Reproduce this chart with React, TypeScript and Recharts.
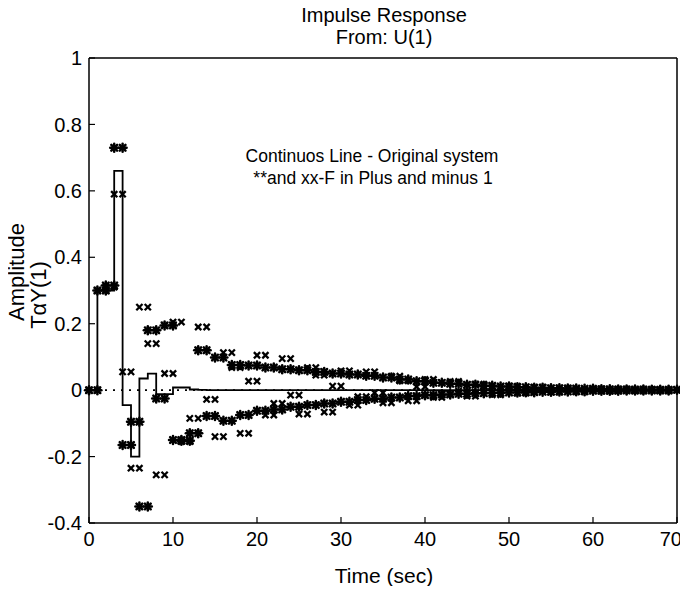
import { ComposedChart, Line, Scatter, XAxis, YAxis, ReferenceLine } from 'recharts';

// sample index k = 0..70 (sample time 1 s)
const ORIGINAL = [
    0, 0.3, 0.3, 0.66, -0.045, -0.2, 0.035, 0.05, -0.012, -0.012,
    0.008, 0.008, 0.002, 0.001, 0, 0, 0, 0, 0, 0,
    0, 0, 0, 0, 0, 0, 0, 0, 0, 0,
    0, 0, 0, 0, 0, 0, 0, 0, 0, 0,
    0, 0, 0, 0, 0, 0, 0, 0, 0, 0,
    0, 0, 0, 0, 0, 0, 0, 0, 0, 0,
    0, 0, 0, 0, 0, 0, 0, 0, 0, 0,
    0,
];

// "**" series, value held over [k, k+1]
const STAR_PLUS = [
    0, 0.3, 0.315, 0.73, -0.165, -0.095, -0.35, 0.18, -0.025, 0.195,
    -0.15, -0.152, -0.13, 0.12, -0.078, 0.098, -0.092, 0.076, -0.075, 0.074,
    -0.062, 0.068, -0.058, 0.063, -0.05, 0.06, -0.045, 0.055, -0.04, 0.05,
    -0.035, 0.047, -0.03, 0.043, -0.026, 0.038, -0.022, 0.032, -0.018, 0.027,
    -0.015, 0.022, -0.013, 0.019, -0.011, 0.016, -0.009, 0.013, -0.008, 0.011,
    -0.007, 0.009, -0.006, 0.007, -0.005, 0.006, -0.004, 0.005, -0.003, 0.004,
    -0.002, 0.003, -0.002, 0.002, -0.001, 0.002, -0.001, 0.001, -0.001, 0.001,
];

// "xx" series, value held over [k, k+1]
const X_MINUS = [
    0, 0.3, 0.31, 0.59, 0.055, -0.235, 0.25, 0.14, -0.255, 0.05,
    0.205, -0.155, -0.085, 0.19, -0.028, -0.14, 0.113, 0.068, -0.13, 0.027,
    0.105, -0.075, -0.04, 0.095, -0.015, -0.072, 0.068, 0.045, -0.066, 0.012,
    0.058, -0.045, -0.02, 0.055, -0.008, -0.038, 0.042, 0.028, -0.032, 0.01,
    0.032, -0.022, -0.012, 0.026, -0.003, -0.018, 0.018, 0.012, -0.014, 0.004,
    0.012, -0.009, -0.005, 0.009, -0.001, -0.006, 0.006, 0.004, -0.005, 0.001,
    0.004, -0.003, -0.002, 0.003, 0, -0.002, 0.002, 0.001, -0.001, 0,
];

const X_TICKS = [0, 10, 20, 30, 40, 50, 60, 70];
const Y_TICKS = [-0.4, -0.2, 0, 0.2, 0.4, 0.6, 0.8, 1];

const FONT = '"Liberation Sans", Arial, Helvetica, sans-serif';

const lineData = ORIGINAL.map((v, k) => ({ t: k, v }));

// stairs with markers: every held value is marked at both ends of its step
const toStairMarkers = (vals: number[]) =>
    vals.flatMap((v, k) => [
        { t: k, v },
        { t: k + 1, v },
    ]);

const starData = toStairMarkers(STAR_PLUS);
const crossData = toStairMarkers(X_MINUS);

const StarMark = (props: any) => {
    const { cx, cy } = props;
    const r = 4;
    const d = r * 0.72;
    return (
        <g stroke="#000" strokeWidth={2.5} strokeLinecap="round">
            <line x1={cx - r} y1={cy} x2={cx + r} y2={cy} />
            <line x1={cx} y1={cy - r} x2={cx} y2={cy + r} />
            <line x1={cx - d} y1={cy - d} x2={cx + d} y2={cy + d} />
            <line x1={cx - d} y1={cy + d} x2={cx + d} y2={cy - d} />
        </g>
    );
};

const CrossMark = (props: any) => {
    const { cx, cy } = props;
    const r = 3.1;
    return (
        <g stroke="#000" strokeWidth={2.3}>
            <line x1={cx - r} y1={cy - r} x2={cx + r} y2={cy + r} />
            <line x1={cx - r} y1={cy + r} x2={cx + r} y2={cy - r} />
        </g>
    );
};

// last x label pulled a bit inside the frame so it is not cut off
const renderXTick = (props: any) => {
    const { x, y, payload } = props;
    const last = payload.value === 70;
    return (
        <text
            x={last ? x + 5 : x}
            y={y}
            dy="0.71em"
            textAnchor={last ? 'end' : 'middle'}
            fill="#000"
            fontSize={20}
            fontFamily={FONT}
        >
            {String(payload.value)}
        </text>
    );
};

const tickStyle = { fill: '#000', fontSize: 20, fontFamily: FONT };
const axisLine = { stroke: '#000', strokeWidth: 1.5 };
const tickLine = { stroke: '#000', strokeWidth: 1.2 };

const text = (extra: React.CSSProperties): React.CSSProperties => ({
    position: 'absolute',
    whiteSpace: 'nowrap',
    fontFamily: FONT,
    color: '#000',
    lineHeight: 1.2,
    ...extra,
});

export default function App() {
    return (
        <div style={{ position: 'relative', width: 688, height: 594, margin: -8, background: '#fff' }}>
            <ComposedChart
                width={688}
                height={594}
                data={lineData}
                margin={{ top: 57, right: 0, bottom: 0, left: 0 }}
            >
                <XAxis
                    dataKey="t"
                    type="number"
                    domain={[0, 70]}
                    ticks={X_TICKS}
                    interval={0}
                    height={71}
                    tickSize={-6}
                    tickMargin={15}
                    tick={renderXTick}
                    axisLine={axisLine}
                    tickLine={tickLine}
                />
                <XAxis
                    xAxisId="top"
                    orientation="top"
                    type="number"
                    domain={[0, 70]}
                    ticks={X_TICKS}
                    height={1}
                    tickSize={-6}
                    tick={false}
                    axisLine={axisLine}
                    tickLine={tickLine}
                />
                <YAxis
                    type="number"
                    domain={[-0.4, 1]}
                    ticks={Y_TICKS}
                    interval={0}
                    width={89}
                    tickSize={-6}
                    tickMargin={13}
                    tick={tickStyle}
                    axisLine={axisLine}
                    tickLine={tickLine}
                />
                <YAxis
                    yAxisId="right"
                    orientation="right"
                    type="number"
                    domain={[-0.4, 1]}
                    ticks={Y_TICKS}
                    width={11}
                    tickSize={-6}
                    tick={false}
                    axisLine={axisLine}
                    tickLine={tickLine}
                />
                <ReferenceLine y={0} stroke="#000" strokeWidth={1.6} strokeDasharray="2 6" />
                <Line
                    dataKey="v"
                    type="stepAfter"
                    stroke="#000"
                    strokeWidth={1.8}
                    dot={false}
                    isAnimationActive={false}
                />
                <Scatter data={crossData} dataKey="v" shape={CrossMark} isAnimationActive={false} />
                <Scatter data={starData} dataKey="v" shape={StarMark} isAnimationActive={false} />
            </ComposedChart>

            <div style={text({ left: 384, top: 3, fontSize: 20, transform: 'translateX(-50%)' })}>Impulse Response</div>
            <div style={text({ left: 384, top: 25, fontSize: 20, transform: 'translateX(-50%)' })}>From: U(1)</div>

            <div style={text({ left: 372, top: 146, fontSize: 17.5, transform: 'translateX(-50%)' })}>
                Continuos Line - Original system
            </div>
            <div style={text({ left: 373, top: 168, fontSize: 17.5, transform: 'translateX(-50%)' })}>
                **and xx-F in Plus and minus 1
            </div>

            <div style={text({ left: 384, top: 563, fontSize: 21, transform: 'translateX(-50%)' })}>Time (sec)</div>

            <div style={text({ left: 17, top: 272, fontSize: 22, transform: 'translate(-50%, -50%) rotate(-90deg)' })}>
                Amplitude
            </div>
            <div style={text({ left: 39, top: 295, fontSize: 22, transform: 'translate(-50%, -50%) rotate(-90deg)' })}>
                TαY(1)
            </div>
        </div>
    );
}
